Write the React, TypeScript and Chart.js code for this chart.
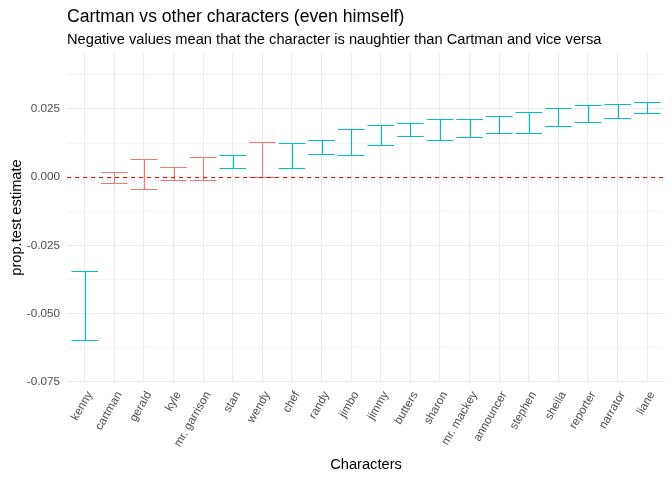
import { useEffect, useRef } from 'react'
import { Chart, registerables } from 'chart.js'

Chart.register(...registerables)

const characters = [
  'kenny', 'cartman', 'gerald', 'kyle', 'mr. garrison', 'stan', 'wendy', 'chef', 'randy', 'jimbo',
  'jimmy', 'butters', 'sharon', 'mr. mackey', 'announcer', 'stephen', 'sheila', 'reporter', 'narrator', 'liane',
]
const lower = [
  -0.0597, -0.0022, -0.0044, -0.0011, -0.0011, 0.0033, 0.0000, 0.0033, 0.0084, 0.0080,
  0.0117, 0.0150, 0.0135, 0.0146, 0.0161, 0.0161, 0.0187, 0.0201, 0.0216, 0.0234,
]
const upper = [
  -0.0344, 0.0019, 0.0066, 0.0037, 0.0073, 0.0080, 0.0128, 0.0124, 0.0135, 0.0176,
  0.0190, 0.0198, 0.0212, 0.0212, 0.0223, 0.0238, 0.0253, 0.0264, 0.0267, 0.0275,
]
// true = interval does not touch zero
const significant = [
  true, false, false, false, false, true, false, true, true, true,
  true, true, true, true, true, true, true, true, true, true,
]
const yGridValues = [-0.075, -0.0625, -0.05, -0.0375, -0.025, -0.0125, 0, 0.0125, 0.025, 0.0375]
const yLabelValues = [-0.075, -0.05, -0.025, 0, 0.025]

const TEAL = '#00BFC4'
const RED = '#F8766D'
const FONT = "'Liberation Sans', Arial, sans-serif"

const snap = (v: number) => Math.round(v) + 0.5

const errorBars = {
  id: 'errorBars',
  afterDatasetsDraw(chart: Chart) {
    const { ctx, chartArea, scales } = chart
    const meta = chart.getDatasetMeta(0)
    ctx.save()
    ctx.lineWidth = 1.1
    meta.data.forEach((el: any, i: number) => {
      const { x, y, base, width } = el.getProps(['x', 'y', 'base', 'width'], true)
      const half = width / 2
      const cx = snap(x), top = snap(y), bot = snap(base)
      ctx.strokeStyle = significant[i] ? TEAL : RED
      ctx.beginPath()
      ctx.moveTo(cx, top); ctx.lineTo(cx, bot)
      ctx.moveTo(x - half, top); ctx.lineTo(x + half, top)
      ctx.moveTo(x - half, bot); ctx.lineTo(x + half, bot)
      ctx.stroke()
    })
    // zero reference line
    const y0 = snap(scales.y.getPixelForValue(0))
    ctx.strokeStyle = '#FF0000'
    ctx.lineWidth = 1.1
    ctx.setLineDash([4, 4])
    ctx.beginPath()
    ctx.moveTo(chartArea.left, y0); ctx.lineTo(chartArea.right, y0)
    ctx.stroke()
    ctx.restore()
  },
}

const titles = {
  id: 'titles',
  afterDraw(chart: Chart) {
    const { ctx, chartArea } = chart
    ctx.save()
    ctx.fillStyle = '#000000'
    ctx.textAlign = 'left'
    ctx.textBaseline = 'alphabetic'
    ctx.font = `17.6px ${FONT}`
    ctx.fillText('Cartman vs other characters (even himself)', chartArea.left, 22.3)
    ctx.font = `14.67px ${FONT}`
    ctx.fillText('Negative values mean that the character is naughtier than Cartman and vice versa', chartArea.left, 44.3)
    ctx.restore()
  },
}

export default function App() {
  const canvasRef = useRef<HTMLCanvasElement>(null)

  useEffect(() => {
    if (!canvasRef.current) return
    const chart = new Chart(canvasRef.current, {
      type: 'bar',
      data: {
        datasets: [{
          label: 'prop.test estimate',
          data: characters.map((_, i) => ({ x: i, y: [lower[i], upper[i]] })) as any,
          backgroundColor: 'rgba(0,0,0,0)',
          borderWidth: 0,
          categoryPercentage: 0.9,
          barPercentage: 1,
        }],
      },
      options: {
        responsive: false,
        animation: false,
        layout: { padding: { top: 53, right: 7, left: 0, bottom: 0 } },
        plugins: { legend: { display: false }, tooltip: { enabled: false }, title: { display: false } },
        scales: {
          x: {
            type: 'linear',
            min: -0.6,
            max: 19.6,
            offset: false,
            afterBuildTicks: (scale: any) => { scale.ticks = characters.map((_, i) => ({ value: i })) },
            afterFit: (scale: any) => { scale.height = 98 },
            border: { display: false },
            grid: { color: '#EBEBEB', lineWidth: 1.07, drawTicks: false, offset: false },
            ticks: {
              autoSkip: false,
              maxRotation: 60,
              minRotation: 60,
              padding: 7,
              labelOffset: 5,
              color: '#4D4D4D',
              font: { family: FONT, size: 11.7 },
              callback: (v: any) => characters[v] ?? '',
            },
            title: {
              display: true,
              text: 'Characters',
              color: '#000000',
              font: { family: FONT, size: 14.67 },
              padding: { top: 6, bottom: 6 },
            },
          },
          y: {
            min: -0.075,
            max: 0.0455,
            afterBuildTicks: (scale: any) => { scale.ticks = yGridValues.map(v => ({ value: v })) },
            afterFit: (scale: any) => { scale.width = 67 },
            border: { display: false },
            grid: {
              color: '#EBEBEB',
              drawTicks: false,
              lineWidth: (c: any) => (yLabelValues.some(v => Math.abs(v - c.tick?.value) < 1e-9) ? 1.07 : 0.53),
            },
            ticks: {
              padding: 7,
              color: '#4D4D4D',
              font: { family: FONT, size: 11.7 },
              callback: (v: any) => {
                const n = Number(v)
                return yLabelValues.some(l => Math.abs(l - n) < 1e-9) ? n.toFixed(3) : ''
              },
            },
            title: {
              display: true,
              text: 'prop.test estimate',
              color: '#000000',
              font: { family: FONT, size: 14.67 },
              padding: { top: 8, bottom: 0 },
            },
          },
        },
      },
      plugins: [errorBars, titles],
    })
    return () => chart.destroy()
  }, [])

  return (
    <div style={{ position: 'fixed', left: 0, top: 0, width: 672, height: 480, background: '#ffffff' }}>
      <canvas ref={canvasRef} width={672} height={480} />
    </div>
  )
}
